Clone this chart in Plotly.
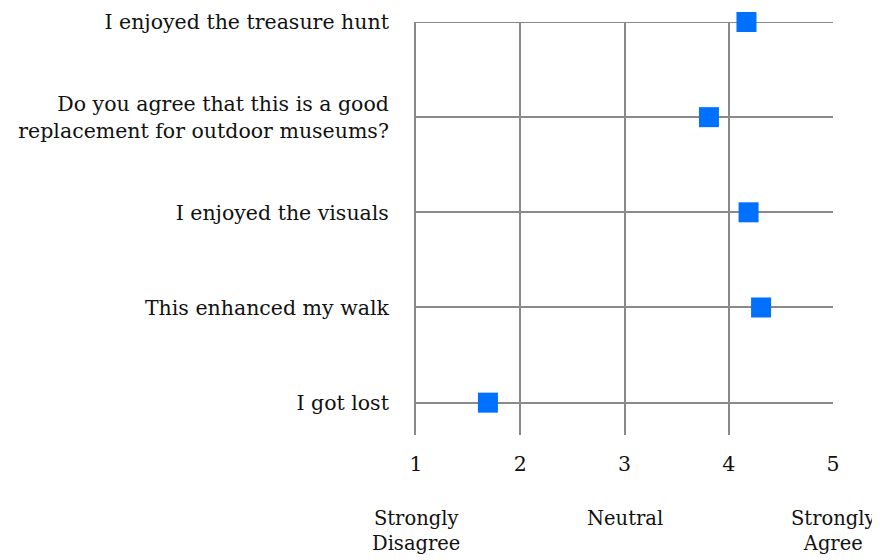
import plotly.graph_objects as go

questions = [
    "I got lost",
    "This enhanced my walk",
    "I enjoyed the visuals",
    "Do you agree that this is a good<br>replacement for outdoor museums?",
    "I enjoyed the treasure hunt",
]
scores = [1.69, 4.31, 4.19, 3.81, 4.17]
x_ticks = [1, 2, 3, 4, 5]
scale_labels = ["Strongly<br>Disagree", "Neutral", "Strongly<br>Agree"]
scale_positions = [1, 3, 5]

positions = list(range(len(questions)))
FONT = "DejaVu Serif"
GRID = "#8a8a8a"

fig = go.Figure()
fig.add_trace(go.Scatter(
    x=scores, y=positions, mode="markers",
    marker=dict(symbol="square", size=20, color="#0070FF", line=dict(width=0)),
    showlegend=False, cliponaxis=False,
))

# gridline for the top category (sits on the plot edge, hidden by plotly)
fig.add_shape(type="line", xref="x domain", x0=0, x1=1, yref="y",
              y0=positions[-1], y1=positions[-1],
              line=dict(color=GRID, width=2), layer="below")

for lab, pos in zip(scale_labels, scale_positions):
    fig.add_annotation(x=pos, xref="x", y=-0.17, yref="paper", text=lab,
                       showarrow=False, xanchor="center", yanchor="top",
                       font=dict(family=FONT, size=19.5, color="#111"))

fig.update_layout(
    width=872, height=552,
    margin=dict(l=408, r=47, t=14, b=125, autoexpand=False),
    paper_bgcolor="white", plot_bgcolor="white",
    font=dict(family=FONT, size=20.5, color="#111"),
    xaxis=dict(range=[1, 5], tickvals=x_ticks, showgrid=True, gridcolor=GRID,
               gridwidth=2, zeroline=False, showline=False, ticks="",
               ticklabelstandoff=14, automargin=False, fixedrange=True),
    yaxis=dict(range=[-0.34, 4], tickvals=positions, ticktext=questions,
               showgrid=True, gridcolor=GRID, gridwidth=2, zeroline=False,
               showline=True, linecolor=GRID, linewidth=2, ticks="",
               ticklabelstandoff=21, automargin=False, fixedrange=True),
)

fig.write_html("out.html")
